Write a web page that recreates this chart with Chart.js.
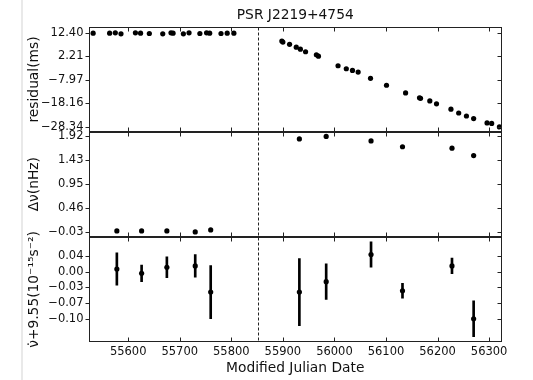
<!DOCTYPE html>
<html>
<head>
<meta charset="utf-8">
<script src="https://cdn.jsdelivr.net/npm/chart.js@4.4.0/dist/chart.umd.min.js"></script>
<style>
html,body{margin:0;padding:0;background:#fff;}
#wrap{position:relative;width:533px;height:380px;overflow:hidden;background:#fff;}
#wrap canvas{position:absolute;left:0;top:0;}
#strip{position:absolute;left:21px;top:0;width:2px;height:380px;background:#e9e9e9;}
</style>
</head>
<body>
<div id="wrap">
<div id="strip"></div>
<canvas id="resChart" width="533" height="380"></canvas>
<canvas id="nuChart" width="533" height="380"></canvas>
<canvas id="nudotChart" width="533" height="380"></canvas>
</div>
<script>
// glitch epoch and shared x ticks
const glitchMjd = 55851;
const xTicks = [55600,55700,55800,55900,56000,56100,56200,56300];

// timing residuals (ms)
const resMjd = [55532,55564,55575,55586,55614,55624,55641,55667,55683,55687,55707,55718,55739,55752,55758,55780,55792,55805,
  55898,55900,55913,55926,55934,55944,55965,55969,56007,56023,56035,56046,56070,56101,56138,56165,56167,56185,56198,56226,56241,56256,56270,56296,56305,56320];
const resVal = [12.25,12.25,12.40,11.95,12.40,12.25,12.10,11.95,12.40,12.25,11.95,12.40,12.10,12.40,12.25,12.10,12.25,12.25,
  8.8,8.4,7.4,6.2,5.3,4.2,2.9,2.3,-1.85,-3.15,-3.9,-4.6,-7.3,-10.3,-13.6,-15.7,-15.95,-17.1,-18.35,-20.65,-22.3,-23.6,-24.7,-26.6,-26.8,-28.34];
const resTicks = [-28.34,-18.16,-7.97,2.21,12.40];

// frequency offset (nHz)
const nuMjd = [55578,55626,55675,55730,55760,55932,55984,56071,56132,56228,56270];
const nuVal = [-0.01,-0.01,-0.01,-0.03,0.01,1.87,1.92,1.83,1.71,1.68,1.53];
const nuTicks = [-0.03,0.46,0.95,1.43,1.92];

// frequency derivative offset (1e-15 s^-2)
const nudotMjd = [55578,55626,55675,55730,55760,55932,55984,56071,56132,56228,56270];
const nudotVal = [0.010,0.000,0.014,0.017,-0.043,-0.043,-0.019,0.043,-0.040,0.017,-0.104];
const nudotErr = [0.037,0.019,0.024,0.026,0.061,0.077,0.041,0.029,0.017,0.018,0.041];
const nudotTicks = [-0.104,-0.068,-0.032,0.004,0.040];
const nudotTickLabels = ["-0.10","-0.07","-0.03","0.00","0.04"];

const FONT = "DejaVu Sans";
const minus = s => s.replace("-","\u2212");

function line(ctx,x1,y1,x2,y2){
  ctx.beginPath(); ctx.moveTo(x1,y1); ctx.lineTo(x2,y2); ctx.stroke();
}

const frameTicks = {
  id:"frameTicks",
  afterDraw(chart){
    const ctx = chart.ctx, a = chart.chartArea, x = chart.scales.x, y = chart.scales.y;
    const L = Math.round(a.left)+0.5, R = Math.round(a.right)-0.5, T = Math.round(a.top)+0.5, B = Math.round(a.bottom)-0.5;
    ctx.save();
    ctx.strokeStyle = "#222";
    ctx.lineWidth = 1;
    const gx = Math.round(x.getPixelForValue(glitchMjd))+0.5;
    ctx.setLineDash([3,2]);
    line(ctx,gx,T,gx,B);
    ctx.setLineDash([]);
    ctx.strokeRect(L,T,R-L,B-T);
    x.ticks.forEach(t=>{
      const px = Math.round(x.getPixelForValue(t.value))+0.5;
      line(ctx,px,T,px,T+4);
      line(ctx,px,B,px,B-4);
    });
    y.ticks.forEach(t=>{
      const py = Math.round(y.getPixelForValue(t.value))+0.5;
      line(ctx,L-4,py,L,py);
      line(ctx,R,py,R-4,py);
    });
    ctx.restore();
  }
};

function makePanel(id, cfg){
  return new Chart(document.getElementById(id),{
    type:"scatter",
    data:{datasets:cfg.datasets},
    options:{
      responsive:false,
      animation:false,
      devicePixelRatio:1,
      layout:{padding:{left:0,right:31,top:cfg.top,bottom:cfg.bottom}},
      plugins:{
        legend:{display:false},
        tooltip:{enabled:false},
        title:cfg.title || {display:false}
      },
      scales:{
        x:{
          type:"linear",
          offset:false,
          min:55523, max:56325,
          afterBuildTicks:ax=>{ ax.ticks = xTicks.map(v=>({value:v})); },
          afterFit:ax=>{ ax.height = cfg.xHeight; },
          grid:{display:false,drawTicks:false,offset:false},
          border:{display:false},
          ticks:{display:cfg.showX,padding:2.5,color:"#111",font:{family:FONT,size:11.5},callback:v=>String(v)},
          title:{display:cfg.showX,text:"Modified Julian Date",color:"#111",font:{family:FONT,size:13.8},padding:{top:0,bottom:3.4}}
        },
        y:{
          type:"linear",
          min:cfg.ymin, max:cfg.ymax,
          afterBuildTicks:ax=>{ ax.ticks = cfg.yTicks.map(v=>({value:v})); },
          afterFit:ax=>{ ax.width = 88.5; },
          grid:{display:false,drawTicks:false},
          border:{display:false},
          ticks:{padding:5,color:"#111",font:{family:FONT,size:11.5},callback:cfg.yLabel},
          title:{display:true,text:cfg.yTitle,color:"#111",font:{family:FONT,size:13.8},padding:{top:25.7,bottom:0}}
        }
      }
    },
    plugins:[frameTicks]
  });
}

const dot = {showLine:false,pointRadius:2.6,pointBorderWidth:0,pointBackgroundColor:"#000",pointBorderColor:"#000",order:1};

makePanel("resChart",{
  top:0, bottom:248.3, xHeight:0, showX:false,
  ymin:-30.4, ymax:14.8, yTicks:resTicks,
  yLabel:v=>minus(v.toFixed(2)),
  yTitle:"residual(ms)",
  title:{display:true,fullSize:false,text:"PSR J2219+4754",color:"#111",font:{family:FONT,size:13.8,weight:"normal"},padding:{top:6.7,bottom:4}},
  datasets:[Object.assign({data:resMjd.map((m,i)=>({x:m,y:resVal[i]}))},dot)]
});

makePanel("nuChart",{
  top:131.7, bottom:143.3, xHeight:0, showX:false,
  ymin:-0.1275, ymax:2.0175, yTicks:nuTicks,
  yLabel:v=>minus(v.toFixed(2)),
  yTitle:"\u0394\u03bd(nHz)",
  datasets:[Object.assign({data:nuMjd.map((m,i)=>({x:m,y:nuVal[i]}))},dot)]
});

makePanel("nudotChart",{
  top:236.7, bottom:0, xHeight:37.7, showX:true,
  ymin:-0.158, ymax:0.084, yTicks:nudotTicks,
  yLabel:(v,i)=>minus(nudotTickLabels[i]),
  yTitle:"\u03bd\u0307+9.55(10\u207b\u00b9\u2075s\u207b\u00b2)",
  datasets:[
    Object.assign({data:nudotMjd.map((m,i)=>({x:m,y:nudotVal[i]}))},dot),
    {type:"bar",data:nudotMjd.map((m,i)=>({x:m,y:[nudotVal[i]-nudotErr[i],nudotVal[i]+nudotErr[i]]})),
     backgroundColor:"#000",borderWidth:0,barThickness:2,grouped:false,order:2}
  ]
});
</script>
</body>
</html>
